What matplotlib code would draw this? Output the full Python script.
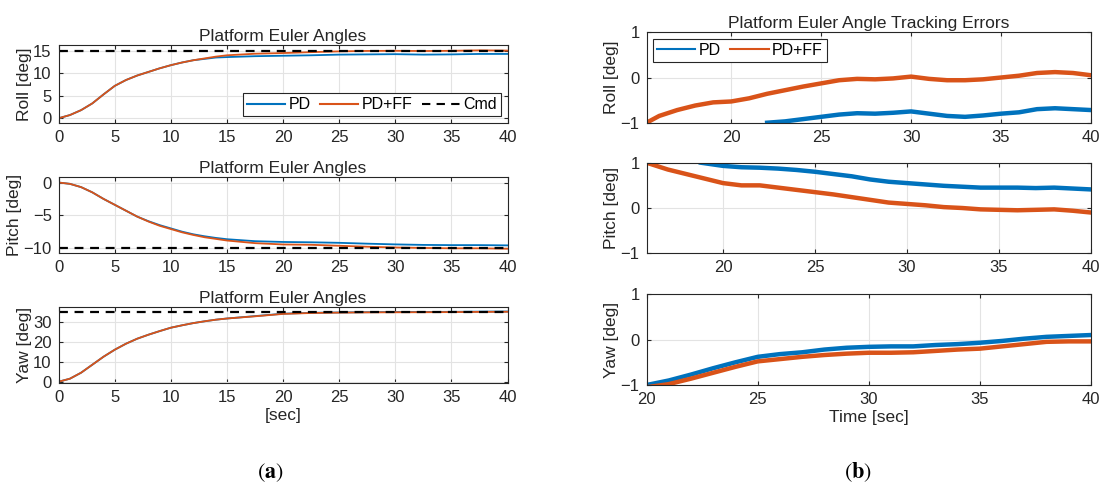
import numpy as np
import matplotlib
matplotlib.use("Agg")
import matplotlib.pyplot as plt

plt.rcParams['font.family'] = ['Liberation Sans', 'DejaVu Sans']
plt.rcParams['mathtext.fontset'] = 'stix'

BLUE, ORANGE = '#0072BD', '#D95319'
TXT = '#262626'

# ---- panel (a): Euler angles ----
t_a = [0, 1, 2, 3, 4, 5, 6, 7, 8, 9, 10, 11, 12, 13, 14, 15, 17.5, 20, 22.5, 25, 27.5, 30, 32.5, 35, 37.5, 40]
roll_pd = [0, 0.7, 1.8, 3.3, 5.3, 7.2, 8.5, 9.5, 10.3, 11.1, 11.8, 12.4, 12.9, 13.2, 13.5, 13.6,
           13.8, 13.9, 14.0, 14.15, 14.2, 14.25, 14.15, 14.2, 14.3, 14.3]
roll_ff = [0, 0.7, 1.8, 3.3, 5.3, 7.2, 8.5, 9.5, 10.3, 11.1, 11.8, 12.4, 12.9, 13.3, 13.7, 14.0,
           14.35, 14.5, 14.7, 14.87, 14.97, 15.0, 14.95, 15.0, 15.1, 15.05]
pitch_pd = [0, -0.2, -0.7, -1.5, -2.5, -3.4, -4.3, -5.2, -5.9, -6.5, -7.0, -7.5, -7.9, -8.2, -8.45, -8.65,
            -8.95, -9.07, -9.12, -9.2, -9.33, -9.44, -9.52, -9.55, -9.55, -9.59]
pitch_ff = [0, -0.2, -0.7, -1.5, -2.5, -3.4, -4.3, -5.2, -5.95, -6.6, -7.1, -7.6, -8.0, -8.35, -8.6, -8.85,
            -9.25, -9.45, -9.5, -9.65, -9.8, -9.91, -9.98, -10.04, -10.04, -10.1]
yaw_pd = [0, 1.5, 4.5, 8.5, 12.5, 16, 19, 21.5, 23.5, 25.3, 27, 28.2, 29.3, 30.2, 31.0, 31.6,
          32.8, 34.0, 34.45, 34.62, 34.76, 34.84, 34.87, 34.93, 35.03, 35.1]
yaw_ff = [0, 1.5, 4.5, 8.5, 12.5, 16, 19, 21.5, 23.5, 25.3, 27, 28.2, 29.3, 30.2, 31.0, 31.6,
          32.7, 33.9, 34.35, 34.53, 34.66, 34.71, 34.74, 34.8, 34.9, 34.96]
cmd = [15, -10, 35]

# ---- panel (b): tracking errors [deg] ----
t_roll_ff = [15.3, 16, 17, 18, 19, 20, 21, 22, 23, 24, 25, 26, 27, 28, 29, 30, 31, 32, 33, 34, 35, 36, 37, 38, 39, 40]
e_roll_ff = [-1.0, -0.85, -0.72, -0.62, -0.55, -0.53, -0.46, -0.36, -0.28, -0.2, -0.13, -0.06, -0.03, -0.04,
             -0.02, 0.02, -0.03, -0.06, -0.06, -0.04, 0.0, 0.04, 0.1, 0.12, 0.1, 0.05]
t_roll_pd = [22, 23, 24, 25, 26, 27, 28, 29, 30, 31, 32, 33, 34, 35, 36, 37, 38, 39, 40]
e_roll_pd = [-1.0, -0.97, -0.92, -0.87, -0.82, -0.79, -0.8, -0.78, -0.75, -0.8, -0.85, -0.87, -0.84, -0.8,
             -0.77, -0.7, -0.68, -0.7, -0.72]

t_pitch_ff = [15.85, 17, 18, 19, 20, 21, 22, 23, 24, 25, 26, 27, 28, 29, 30, 31, 32, 33, 34, 35, 36, 37, 38, 39, 40]
e_pitch_ff = [1.0, 0.85, 0.75, 0.65, 0.55, 0.5, 0.5, 0.45, 0.4, 0.35, 0.3, 0.24, 0.18, 0.12, 0.09, 0.06, 0.02,
              0.0, -0.03, -0.04, -0.05, -0.04, -0.03, -0.06, -0.1]
t_pitch_pd = [18.8, 20, 21, 22, 23, 24, 25, 26, 27, 28, 29, 30, 31, 32, 33, 34, 35, 36, 37, 38, 39, 40]
e_pitch_pd = [1.0, 0.93, 0.9, 0.89, 0.87, 0.84, 0.8, 0.75, 0.7, 0.63, 0.58, 0.55, 0.52, 0.49, 0.47, 0.45,
              0.45, 0.45, 0.44, 0.45, 0.43, 0.41]

t_yaw = [20, 21, 22, 23, 24, 25, 26, 27, 28, 29, 30, 31, 32, 33, 34, 35, 36, 37, 38, 39, 40]
e_yaw_pd = [-1.0, -0.9, -0.77, -0.63, -0.5, -0.38, -0.32, -0.28, -0.22, -0.18, -0.16, -0.15, -0.15, -0.12,
            -0.1, -0.07, -0.03, 0.02, 0.06, 0.08, 0.1]
e_yaw_ff = [-1.05, -0.98, -0.86, -0.73, -0.6, -0.48, -0.43, -0.38, -0.34, -0.31, -0.29, -0.29, -0.28, -0.25,
            -0.22, -0.2, -0.15, -0.1, -0.05, -0.04, -0.04]


def style(ax):
    ax.grid(True, color='#e3e3e3', linewidth=0.8)
    ax.set_axisbelow(True)
    ax.tick_params(direction='in', length=3, labelsize=12, colors=TXT, top=True, right=True, pad=5)
    for s in ax.spines.values():
        s.set_color(TXT)
        s.set_linewidth(0.8)


def legend(ax, loc, ncol):
    leg = ax.legend(loc=loc, ncol=ncol, fontsize=11.5, frameon=True, fancybox=False,
                    edgecolor=TXT, framealpha=1, handlelength=2.4, columnspacing=0.6,
                    handletextpad=0.2, borderpad=0.25, borderaxespad=0.4)
    leg.get_frame().set_linewidth(0.8)
    for h in leg.get_lines():
        h.set_linewidth(1.5)
    return leg


fig = plt.figure(figsize=(11.11, 4.86), dpi=100)

# panel (a)
left_pos = [(0.0528, 0.7475, 0.404, 0.160),
            (0.0528, 0.4788, 0.404, 0.1564),
            (0.0528, 0.2113, 0.404, 0.1564)]
ylims_a = [(-1, 16.3), (-10.8, 0.8), (-0.8, 37.2)]
yticks_a = [[0, 5, 10, 15], [-10, -5, 0], [0, 10, 20, 30]]
names = ['Roll [deg]', 'Pitch [deg]', 'Yaw [deg]']
series_a = [(roll_pd, roll_ff), (pitch_pd, pitch_ff), (yaw_pd, yaw_ff)]

for i, pos in enumerate(left_pos):
    ax = fig.add_axes(pos)
    pd_, ff_ = series_a[i]
    ax.plot(t_a, pd_, color=BLUE, lw=1.3, label='PD')
    ax.plot(t_a, ff_, color=ORANGE, lw=1.3, label='PD+FF')
    ax.plot([0, 40], [cmd[i], cmd[i]], color='black', lw=1.6, ls=(0, (4, 3)), label='Cmd')
    ax.set_xlim(0, 40)
    ax.set_ylim(*ylims_a[i])
    ax.set_yticks(yticks_a[i])
    ax.set_xticks(range(0, 41, 5))
    ax.set_title('Platform Euler Angles', fontsize=12.5, color=TXT, pad=3)
    ax.set_ylabel(names[i], fontsize=12.5, color=TXT, labelpad=1)
    style(ax)
    if i == 0:
        legend(ax, 'lower right', 3)
    if i == 2:
        ax.set_xlabel('[sec]', fontsize=12.5, color=TXT, labelpad=2)

# panel (b)
right_pos = [(0.582, 0.7475, 0.400, 0.186),
             (0.582, 0.4788, 0.400, 0.1864),
             (0.582, 0.2078, 0.400, 0.187)]
xmins_b = [15.3, 15.85, 20]
series_b = [(t_roll_pd, e_roll_pd, t_roll_ff, e_roll_ff),
            (t_pitch_pd, e_pitch_pd, t_pitch_ff, e_pitch_ff),
            (t_yaw, e_yaw_pd, t_yaw, e_yaw_ff)]

for i, pos in enumerate(right_pos):
    ax = fig.add_axes(pos)
    tp, ep, tf, ef = series_b[i]
    ax.plot(tp, ep, color=BLUE, lw=3.2, label='PD')
    ax.plot(tf, ef, color=ORANGE, lw=3.2, label='PD+FF')
    ax.set_xlim(xmins_b[i], 40)
    ax.set_ylim(-1, 1)
    ax.set_yticks([-1, 0, 1])
    ax.set_xticks(range(20, 41, 5))
    ax.set_ylabel(names[i], fontsize=12.5, color=TXT, labelpad=1)
    style(ax)
    if i == 0:
        ax.set_title('Platform Euler Angle Tracking Errors', fontsize=12.5, color=TXT, pad=3)
        legend(ax, 'upper left', 2)
    if i == 2:
        ax.set_xlabel('Time [sec]', fontsize=12.5, color=TXT, labelpad=2)

fig.text(0.243, 0.028, r'$(\mathbf{a})$', fontsize=16, ha='center', va='center')
fig.text(0.772, 0.028, r'$(\mathbf{b})$', fontsize=16, ha='center', va='center')

fig.savefig('out.png', dpi=100)
